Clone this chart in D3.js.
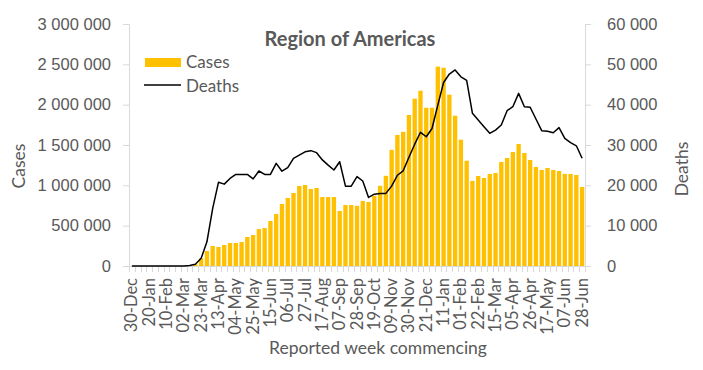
<!DOCTYPE html>
<html>
<head>
<meta charset="utf-8">
<script src="https://cdn.jsdelivr.net/npm/d3@7"></script>
<style>
  body { margin: 0; background: #fff; }
  svg { display: block; font-family: Lato, "Open Sans", sans-serif; }
  .tick-label { fill: #595959; font-size: 16.5px; }
  .legend-label { fill: #595959; font-size: 17px; }
  .axis-title { fill: #595959; font-size: 17.5px; }
</style>
</head>
<body>
<svg id="chart"></svg>
<script>
// ─── Data ─────────────────────────────────────────────────────────────────────
const weeks = [
  "30-Dec",
  "06-Jan", "13-Jan", "20-Jan", "27-Jan", "03-Feb", "10-Feb", "17-Feb", "24-Feb",
  "02-Mar", "09-Mar", "16-Mar", "23-Mar", "30-Mar", "06-Apr", "13-Apr", "20-Apr", "27-Apr",
  "04-May", "11-May", "18-May", "25-May", "01-Jun", "08-Jun", "15-Jun", "22-Jun", "29-Jun",
  "06-Jul", "13-Jul", "20-Jul", "27-Jul", "03-Aug", "10-Aug", "17-Aug", "24-Aug", "31-Aug",
  "07-Sep", "14-Sep", "21-Sep", "28-Sep", "05-Oct", "12-Oct", "19-Oct", "26-Oct",
  "02-Nov", "09-Nov", "16-Nov", "23-Nov", "30-Nov", "07-Dec", "14-Dec", "21-Dec", "28-Dec",
  "04-Jan", "11-Jan", "18-Jan", "25-Jan", "01-Feb", "08-Feb", "15-Feb", "22-Feb",
  "01-Mar", "08-Mar", "15-Mar", "22-Mar", "29-Mar", "05-Apr", "12-Apr", "19-Apr", "26-Apr",
  "03-May", "10-May", "17-May", "24-May", "31-May", "07-Jun", "14-Jun", "21-Jun", "28-Jun"
];

const cases = [
  0, 0, 0, 0, 0, 0, 0, 0, 0, 300, 3000, 20000,
  95000, 186000, 248000, 236000, 260000, 285000, 285000, 297000, 360000, 384000,
  458000, 470000, 558000, 645000, 769000, 843000, 905000, 992000, 1004000, 955000,
  967000, 855000, 855000, 855000, 682000, 756000, 756000, 746000, 806000, 794000,
  870000, 994000, 1118000, 1440000, 1624000, 1663000, 1872000, 2074000, 2173000, 1962000,
  1962000, 2471000, 2458000, 2124000, 1863000, 1566000, 1305000, 1055000, 1116000, 1091000,
  1141000, 1153000, 1289000, 1339000, 1413000, 1512000, 1401000, 1314000, 1227000, 1190000,
  1215000, 1190000, 1178000, 1141000, 1141000, 1128000, 979000
];

const deaths = [
  0, 0, 0, 0, 0, 0, 0, 0, 0, 20, 100, 420,
  1900, 6000, 14300, 20750, 20300, 21700, 22700, 22700, 22700, 21600,
  23550, 22700, 22700, 25450, 23500, 24400, 26700, 27500, 28300, 28600,
  28100, 26300, 25000, 23800, 25850, 19800, 19800, 22150, 21070, 17000,
  17800, 18000, 18000, 19800, 22500, 23600, 26950, 30200, 33150, 32050,
  34100, 39900, 45500, 47600, 48600, 46900, 46000, 37850, 36200, 34550,
  32900, 33700, 34950, 38500, 39500, 42800, 39500, 39350, 36450, 33550,
  33400, 33050, 34300, 31650, 30570, 29800, 26700
];

const casesTicks  = [0, 500000, 1000000, 1500000, 2000000, 2500000, 3000000];
const deathsTicks = [0, 10000, 20000, 30000, 40000, 50000, 60000];

// ─── Layout ───────────────────────────────────────────────────────────────────
const W = 703, H = 370;
const plot = { left: 129, right: 585, top: 24, bottom: 266 };
const TEXT = "#595959", AXIS = "#d9d9d9", BAR = "#FFC000";

const fmt = v => d3.format(",")(v).replace(/,/g, "\u00a0");

const svg = d3.select("#chart").attr("width", W).attr("height", H);

const x = d3.scaleBand()
  .domain(d3.range(weeks.length))
  .range([plot.left, plot.right])
  .paddingInner(0.25)
  .paddingOuter(0.125);

const yCases  = d3.scaleLinear().domain([0, 3000000]).range([plot.bottom, plot.top]);
const yDeaths = d3.scaleLinear().domain([0, 60000]).range([plot.bottom, plot.top]);

// ─── Bars ─────────────────────────────────────────────────────────────────────
svg.append("g").selectAll("rect")
  .data(cases)
  .join("rect")
  .attr("x", (d, i) => x(i))
  .attr("width", x.bandwidth())
  .attr("y", d => yCases(d))
  .attr("height", d => plot.bottom - yCases(d))
  .attr("fill", BAR);

// ─── Axes ─────────────────────────────────────────────────────────────────────
const leftAxis = svg.append("g")
  .attr("transform", `translate(${plot.left},0)`)
  .call(d3.axisLeft(yCases).tickValues(casesTicks).tickSize(6).tickPadding(12).tickFormat(fmt));

const rightAxis = svg.append("g")
  .attr("transform", `translate(${plot.right},0)`)
  .call(d3.axisRight(yDeaths).tickValues(deathsTicks).tickSize(6).tickPadding(16).tickFormat(fmt));

[leftAxis, rightAxis].forEach(a => {
  a.select(".domain").attr("stroke", AXIS);
  a.selectAll(".tick line").attr("stroke", AXIS);
  a.selectAll(".tick text").attr("class", "tick-label").attr("font-family", null).attr("font-size", null);
});

// Bottom category axis: tick at every week boundary, label every third week.
const step = x.step();
const bottom = svg.append("g");
bottom.append("line")
  .attr("x1", plot.left).attr("x2", plot.right)
  .attr("y1", plot.bottom + 0.5).attr("y2", plot.bottom + 0.5)
  .attr("stroke", AXIS);
bottom.selectAll("line.wk")
  .data(d3.range(weeks.length + 1))
  .join("line")
  .attr("class", "wk")
  .attr("x1", i => Math.round(plot.left + i * step) + 0.5)
  .attr("x2", i => Math.round(plot.left + i * step) + 0.5)
  .attr("y1", plot.bottom)
  .attr("y2", plot.bottom + 6)
  .attr("stroke", AXIS);
bottom.selectAll("text")
  .data(weeks.map((w, i) => ({ w, i })).filter(d => d.i % 3 === 0))
  .join("text")
  .attr("class", "tick-label")
  .attr("text-anchor", "end")
  .attr("transform", d => `translate(${x(d.i) + x.bandwidth() / 2 + 5.5},${plot.bottom + 12}) rotate(-90)`)
  .text(d => d.w);

// ─── Deaths line ──────────────────────────────────────────────────────────────
svg.append("path")
  .datum(deaths)
  .attr("fill", "none")
  .attr("stroke", "#000")
  .attr("stroke-width", 1.5)
  .attr("stroke-linejoin", "round")
  .attr("d", d3.line().x((d, i) => x(i) + x.bandwidth() / 2).y(d => yDeaths(d)));

// ─── Titles ───────────────────────────────────────────────────────────────────
svg.append("text")
  .attr("x", 350).attr("y", 46)
  .attr("text-anchor", "middle")
  .attr("fill", TEXT)
  .attr("font-size", 20).attr("font-weight", "bold")
  .text("Region of Americas");

svg.append("text")
  .attr("transform", "translate(25,166) rotate(-90)")
  .attr("text-anchor", "middle")
  .attr("class", "axis-title")
  .text("Cases");

svg.append("text")
  .attr("transform", "translate(688,169) rotate(-90)")
  .attr("text-anchor", "middle")
  .attr("class", "axis-title")
  .text("Deaths");

svg.append("text")
  .attr("x", 378).attr("y", 354)
  .attr("text-anchor", "middle")
  .attr("class", "axis-title")
  .text("Reported week commencing");

// ─── Legend ───────────────────────────────────────────────────────────────────
const legend = svg.append("g");
legend.append("rect")
  .attr("x", 145).attr("y", 58).attr("width", 36).attr("height", 9)
  .attr("fill", BAR);
legend.append("text")
  .attr("x", 186).attr("y", 68)
  .attr("class", "legend-label")
  .text("Cases");
legend.append("line")
  .attr("x1", 144).attr("x2", 181).attr("y1", 85).attr("y2", 85)
  .attr("stroke", "#000").attr("stroke-width", 1.5);
legend.append("text")
  .attr("x", 186).attr("y", 91.5)
  .attr("class", "legend-label")
  .text("Deaths");
</script>
</body>
</html>
